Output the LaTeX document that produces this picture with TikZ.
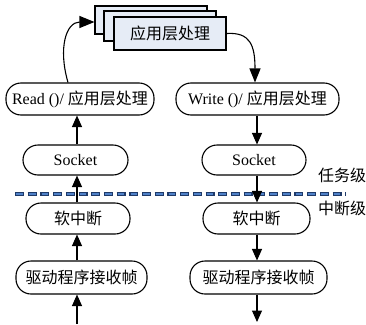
\documentclass[tikz,border=0pt]{standalone}
\usepackage{fontspec}
\setmainfont{Liberation Serif}
\newfontfamily\cjk{Noto Sans CJK SC}
\usetikzlibrary{arrows.meta}
\definecolor{boxfill}{HTML}{E6ECF6}
\definecolor{dashdark}{HTML}{1F3A68}
\definecolor{dashblue}{HTML}{4F81C8}
\tikzset{
  pill/.style={draw=black, line width=1.1pt, rounded corners=15pt, inner sep=0pt,
    font=\fontsize{16}{18}\selectfont},
  appbox/.style={draw=black, line width=1.1pt, fill=boxfill, inner sep=0pt,
    minimum width=112pt, font=\fontsize{16}{18}\selectfont\cjk},
  flow/.style={line width=1.1pt, -{Triangle[length=11.5pt,width=10pt]}},
  level/.style={font=\fontsize{16}{18}\selectfont\cjk, anchor=west, inner sep=0pt}
}
\begin{document}
\begin{tikzpicture}[x=1pt, y=-1pt]
\useasboundingbox (0,0) rectangle (366,324);

% stacked application-layer boxes
\node[appbox, minimum height=28pt] (back) at (151,20) {};
\node[appbox, minimum height=30pt] (mid) at (160,26) {};
\node[appbox, minimum height=33pt] (front) at (170,33.5) {应用层处理};

% receive path (left column)
\node[pill, minimum width=148pt, minimum height=32pt] (readL) at (80,99) {Read ()/ {\cjk 应用层处理}};
\node[pill, minimum width=105pt, minimum height=30pt] (sockL) at (75.5,160) {Socket};
\node[pill, minimum width=104pt, minimum height=31pt, font=\fontsize{16}{18}\selectfont\cjk] (softL) at (78,218.5) {软中断};
\node[pill, minimum width=131pt, minimum height=33pt, font=\fontsize{16}{18}\selectfont\cjk] (drvL) at (81.5,277.5) {驱动程序接收帧};

% send path (right column)
\node[pill, minimum width=163pt, minimum height=32pt] (writeR) at (257.5,99) {Write ()/ {\cjk 应用层处理}};
\node[pill, minimum width=104pt, minimum height=30pt] (sockR) at (254,160) {Socket};
\node[pill, minimum width=107pt, minimum height=31pt, font=\fontsize{16}{18}\selectfont\cjk] (softR) at (256.5,218.5) {软中断};
\node[pill, minimum width=137pt, minimum height=33pt, font=\fontsize{16}{18}\selectfont\cjk] (drvR) at (258.5,277.5) {驱动程序接收帧};

% column axes and free ends
\coordinate (colL) at (77,0);
\coordinate (colR) at (257,0);
\coordinate (inL) at (77,324);
\coordinate (outR) at (257,322);

% task / interrupt boundary
\coordinate (sepA) at (15,194);
\coordinate (sepB) at (346,194);
\draw[dashdark, line width=3.6pt, dash pattern=on 9pt off 3.7pt] (sepA) -- (sepB);
\draw[dashblue, line width=1.3pt, dash pattern=on 6.6pt off 6.1pt, dash phase=-1.2pt] (sepA) -- (sepB);

\node[level] (task) at (318,175) {任务级};
\node[level] (irq) at (318,208) {中断级};

% receive arrows
\draw[flow] (inL) -- (drvL.south -| colL);
\draw[flow] (drvL.north -| colL) -- (softL.south -| colL);
\draw[flow] (softL.north -| colL) -- (sockL.south -| colL);
\draw[flow] (sockL.north -| colL) -- (readL.south -| colL);
\draw[line width=1.1pt, -{Triangle[length=15pt,width=12pt]}]
  ([xshift=-12pt]readL.north) .. controls (58,48) and (66,22) .. ([yshift=-2pt]back.west);

% send arrows
\draw[line width=1.1pt, -{Triangle[length=14pt,width=11pt]}]
  (front.east) .. controls (250,32) and (255,45) .. ([xshift=-2.5pt]writeR.north);
\draw[flow] (writeR.south -| colR) -- (sockR.north -| colR);
\draw[flow] (sockR.south -| colR) -- (softR.north -| colR);
\draw[flow] (softR.south -| colR) -- (drvR.north -| colR);
\draw[flow] (drvR.south -| colR) -- (outR);
\end{tikzpicture}
\end{document}
